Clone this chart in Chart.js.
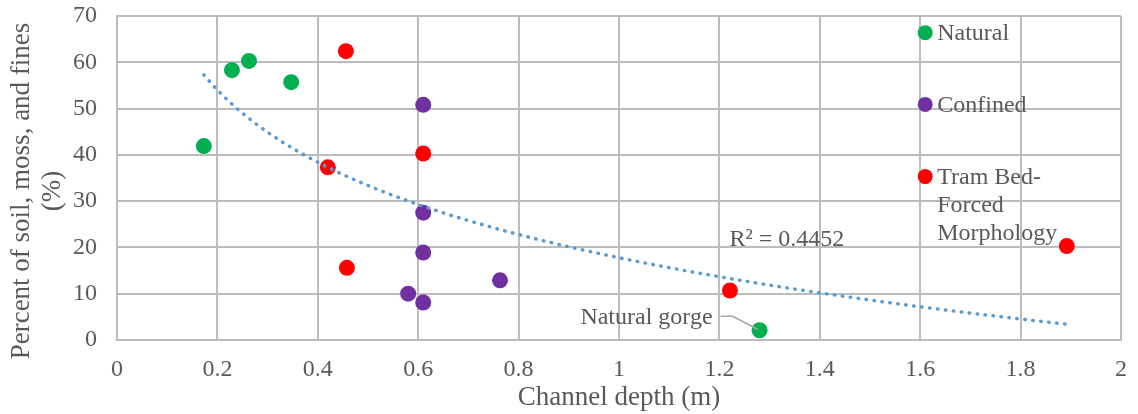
<!DOCTYPE html>
<html>
<head>
<meta charset="utf-8">
<style>
  html, body { margin: 0; padding: 0; background: #ffffff; }
  #wrap { width: 1138px; height: 414px; position: relative; }
</style>
<script src="https://cdn.jsdelivr.net/npm/chart.js@4.4.1/dist/chart.umd.min.js"></script>
</head>
<body>
<div id="wrap"><canvas id="c" width="1138" height="414"></canvas></div>
<script>
// ---- Data ----
const seriesNames = ['Natural', 'Confined', 'Tram Bed-Forced Morphology'];
const legendLines = [['Natural'], ['Confined'], ['Tram Bed-', 'Forced', 'Morphology']];
const naturalX  = [0.173, 0.229, 0.263, 0.347, 1.28];
const naturalY  = [41.9, 58.3, 60.3, 55.7, 2.1];
const confinedX = [0.61, 0.61, 0.61, 0.763, 0.58, 0.61];
const confinedY = [50.8, 27.5, 18.9, 12.9, 10.0, 8.1];
const tramX     = [0.456, 0.42, 0.458, 0.61, 1.221, 1.892];
const tramY     = [62.4, 37.3, 15.6, 40.3, 10.7, 20.3];
const r2Label = 'R² = 0.4452';
const gorgeLabel = 'Natural gorge';
const xTitle = 'Channel depth (m)';
const yTitle = ['Percent of soil, moss, and fines', '(%)'];
const xTicks = [0, 0.2, 0.4, 0.6, 0.8, 1, 1.2, 1.4, 1.6, 1.8, 2];
const yTicks = [0, 10, 20, 30, 40, 50, 60, 70];

const colors = ['#00B050', '#7030A0', '#FF0000'];
const trendColor = '#5B9BD5';
const gridColor = '#bcbcbc';
const textColor = '#595959';
const FONT = "'Liberation Serif', 'Times New Roman', serif";

function pts(xs, ys) { return xs.map((x, i) => ({ x: x, y: ys[i] })); }

// Logarithmic least-squares trendline computed from all the points
const allX = naturalX.concat(confinedX, tramX);
const allY = naturalY.concat(confinedY, tramY);
function logFit(xs, ys) {
  const n = xs.length;
  const L = xs.map(Math.log);
  const mL = L.reduce((a, b) => a + b, 0) / n;
  const mY = ys.reduce((a, b) => a + b, 0) / n;
  let sxx = 0, sxy = 0;
  for (let i = 0; i < n; i++) { sxx += (L[i] - mL) ** 2; sxy += (L[i] - mL) * (ys[i] - mY); }
  const b = sxy / sxx;
  return { a: mY - b * mL, b: b };
}
const fit = logFit(allX, allY);
const xMin = Math.min(...allX), xMax = Math.max(...allX);
const trendPts = [];
for (let i = 0; i <= 120; i++) {
  const x = xMin + (xMax - xMin) * i / 120;
  trendPts.push({ x: x, y: fit.a + fit.b * Math.log(x) });
}

const overlay = {
  id: 'overlay',
  afterDraw(chart) {
    const ctx = chart.ctx;
    const xs = chart.scales.x, ys = chart.scales.y;
    ctx.save();
    // y-axis title (two lines, rotated)
    ctx.fillStyle = textColor;
    ctx.font = '27px ' + FONT;
    ctx.textAlign = 'center';
    ctx.textBaseline = 'middle';
    ctx.save();
    ctx.translate(0, 191);
    ctx.rotate(-Math.PI / 2);
    ctx.fillText(yTitle[0], 0, 22);
    ctx.fillText(yTitle[1], 0, 53);
    ctx.restore();

    // legend inside plot area
    ctx.font = '24px ' + FONT;
    ctx.textAlign = 'left';
    const lx = xs.getPixelForValue(1.61);
    const legendY = [66.4, 50.9, 35.3];
    legendLines.forEach((lines, i) => {
      const py = ys.getPixelForValue(legendY[i]);
      ctx.beginPath();
      ctx.fillStyle = colors[i];
      ctx.arc(lx, py, 7.5, 0, Math.PI * 2);
      ctx.fill();
      ctx.fillStyle = textColor;
      lines.forEach((t, j) => ctx.fillText(t, lx + 12, py + j * 28 + 1));
    });

    // R² label
    ctx.fillStyle = textColor;
    ctx.fillText(r2Label, xs.getPixelForValue(1.22), ys.getPixelForValue(21.6));

    // Natural gorge label with leader line
    const gx = xs.getPixelForValue(naturalX[4]);
    const gy = ys.getPixelForValue(naturalY[4]);
    ctx.strokeStyle = '#a6a6a6';
    ctx.lineWidth = 1.5;
    ctx.beginPath();
    ctx.moveTo(gx - 39, gy - 14);
    ctx.lineTo(gx - 27, gy - 14);
    ctx.lineTo(gx - 2, gy - 1);
    ctx.stroke();
    ctx.textAlign = 'right';
    ctx.fillStyle = textColor;
    ctx.fillText(gorgeLabel, gx - 47, gy - 13);
    ctx.restore();
  }
};

new Chart(document.getElementById('c'), {
  type: 'scatter',
  data: {
    datasets: [
      {
        type: 'line', label: 'Trend', data: trendPts, order: 0,
        borderColor: trendColor, borderWidth: 3.5, borderDash: [0.5, 7.5],
        borderCapStyle: 'round', pointRadius: 0, fill: false, tension: 0
      },
      { label: seriesNames[0], data: pts(naturalX, naturalY), order: 1,
        backgroundColor: colors[0], borderColor: colors[0], pointRadius: 8, borderWidth: 0 },
      { label: seriesNames[1], data: pts(confinedX, confinedY), order: 1,
        backgroundColor: colors[1], borderColor: colors[1], pointRadius: 8, borderWidth: 0 },
      { label: seriesNames[2], data: pts(tramX, tramY), order: 1,
        backgroundColor: colors[2], borderColor: colors[2], pointRadius: 8, borderWidth: 0 }
    ]
  },
  options: {
    responsive: false,
    animation: false,
    layout: { padding: { left: 0, top: 16, right: 17, bottom: 0 } },
    plugins: { legend: { display: false }, tooltip: { enabled: false } },
    scales: {
      x: {
        type: 'linear', min: 0, max: 2,
        afterBuildTicks: s => { s.ticks = xTicks.map(v => ({ value: v })); },
        afterFit: s => { s.height = 74; s.paddingLeft = 0; s.paddingRight = 0; },
        grid: { color: gridColor, lineWidth: 2, drawTicks: false },
        border: { color: gridColor, width: 2 },
        ticks: { color: textColor, font: { family: FONT, size: 24 }, padding: 15, maxRotation: 0,
                 callback: v => String(v) },
        title: { display: true, text: xTitle, color: textColor, font: { family: FONT, size: 27 }, padding: { top: 0, bottom: 0 } }
      },
      y: {
        type: 'linear', min: 0, max: 70,
        afterBuildTicks: s => { s.ticks = yTicks.map(v => ({ value: v })); },
        afterFit: s => { s.width = 117; s.paddingTop = 0; s.paddingBottom = 0; },
        grid: { color: gridColor, lineWidth: 2, drawTicks: false },
        border: { color: gridColor, width: 2 },
        ticks: { color: textColor, font: { family: FONT, size: 24 }, padding: 20 }
      }
    }
  },
  plugins: [overlay]
});
</script>
</body>
</html>
